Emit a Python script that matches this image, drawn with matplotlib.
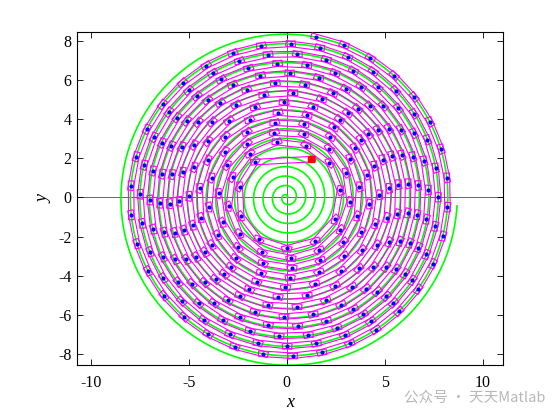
import numpy as np
import matplotlib.pyplot as plt
from matplotlib.collections import PolyCollection

# reference spiral (green)
ref_pitch = 0.483        # radial gap between turns
ref_turns = 18           # number of turns, ends on the +x side
ref_end_angle = -0.05    # rad

# tracked trajectory (magenta boxes + blue dots)
start_xy = [1.23, 1.95]          # red square
traj_r0 = 2.41                   # radius of first sample
traj_phi0 = np.deg2rad(131.6)    # angle of first sample
traj_pitch = 0.499
traj_turns = 11.865
traj_step = 1.5                  # arc distance between samples
box_w = 0.28                     # body width
box_ext = 0.24                   # overhang past each sample

xticks = [-10, -5, 0, 5, 10]
yticks = [-8, -6, -4, -2, 0, 2, 4, 6, 8]

plt.rcParams['font.family'] = ['Liberation Serif']
plt.rcParams['axes.unicode_minus'] = False

fig = plt.figure(figsize=(5.6, 4.2), dpi=100)
ax = fig.add_axes([0.138, 0.130, 0.760, 0.7945])

# green reference
th = np.linspace(0, ref_turns * 2 * np.pi + ref_end_angle, 6000)
r = ref_pitch * th / (2 * np.pi)
ax.plot(r * np.cos(th), r * np.sin(th), color=(0, 1, 0), lw=1.2, zorder=2)

# trajectory samples along the spiral
phi_end = traj_phi0 + traj_turns * 2 * np.pi
pts = []
phi = traj_phi0
while phi <= phi_end:
    rr = traj_r0 + traj_pitch * (phi - traj_phi0) / (2 * np.pi)
    pts.append([rr * np.cos(phi), rr * np.sin(phi)])
    phi += traj_step / np.hypot(rr, traj_pitch / (2 * np.pi))
pts = np.array([start_xy] + pts)

polys = []
for a, b in zip(pts[:-1], pts[1:]):
    d = b - a
    u = d / np.linalg.norm(d)
    n = np.array([-u[1], u[0]])
    p0 = a - box_ext * u
    p1 = b + box_ext * u
    polys.append([p0 + n * box_w / 2, p1 + n * box_w / 2,
                  p1 - n * box_w / 2, p0 - n * box_w / 2])
ax.add_collection(PolyCollection(polys, facecolors='none', edgecolors=(1, 0, 1),
                                 linewidths=0.8, zorder=3))

ax.plot(pts[1:, 0], pts[1:, 1], 'o', color=(0, 0, 1), ms=3, mec='none', zorder=4)
ax.plot(start_xy[0], start_xy[1], 's', color=(1, 0, 0), ms=5, zorder=5)

ax.axhline(0, color='0.4', lw=0.7, zorder=1)
ax.axvline(0, color='0.4', lw=0.7, zorder=1)

ax.set_xlim(-10.68, 11.02)
ax.set_ylim(-8.58, 8.46)
ax.set_xticks(xticks)
ax.set_yticks(yticks)
ax.tick_params(direction='in', top=True, right=True, length=4, width=0.6,
               labelsize=11.5)
ax.tick_params(axis='x', pad=7)
ax.tick_params(axis='y', pad=4)
for s in ax.spines.values():
    s.set_linewidth(0.8)

ax.set_xlabel('x', fontsize=13, fontstyle='italic', labelpad=2)
ax.set_ylabel('y', fontsize=13, fontstyle='italic', labelpad=4)

fig.text(0.722, 0.043, '公众号 · 天天Matlab', fontsize=10.5, color='0.72',
         family=['Noto Sans CJK SC', 'DejaVu Sans'])

fig.savefig('out.png', dpi=100)
